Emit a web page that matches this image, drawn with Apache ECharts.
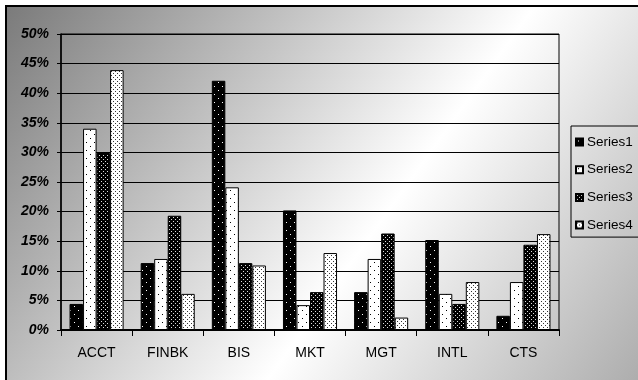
<!DOCTYPE html>
<html>
<head>
<meta charset="utf-8">
<script src="https://cdn.jsdelivr.net/npm/echarts@6/dist/echarts.min.js"></script>
<style>html,body{margin:0;padding:0;background:#fff;}#c{width:638px;height:380px;}</style>
</head>
<body>
<div id="c"></div>
<script>
const categories = ['ACCT', 'FINBK', 'BIS', 'MKT', 'MGT', 'INTL', 'CTS'];
const seriesNames = ['Series1', 'Series2', 'Series3', 'Series4'];
const series1 = [4.4, 11.3, 42.1, 20.2, 6.4, 15.2, 2.4];
const series2 = [34.0, 12.0, 24.1, 4.2, 12.0, 6.1, 8.1];
const series3 = [29.9, 19.3, 11.3, 6.4, 16.3, 4.4, 14.4];
const series4 = [43.9, 6.1, 10.9, 13.0, 2.1, 8.1, 16.2];
const yMin = 0, yMax = 50, yStep = 5;

function makePattern(bg, fg, size, dots) {
  const cv = document.createElement('canvas');
  cv.width = size; cv.height = size;
  const ctx = cv.getContext('2d');
  ctx.fillStyle = bg; ctx.fillRect(0, 0, size, size);
  ctx.fillStyle = fg;
  dots.forEach(d => ctx.fillRect(d[0], d[1], 1, 1));
  return { image: cv, repeat: 'repeat' };
}
const patterns = [
  makePattern('#000', '#fff', 8, [[2, 2], [6, 6]]),
  makePattern('#fff', '#000', 8, [[2, 2], [6, 6]]),
  makePattern('#000', '#ddd', 4, [[1, 1], [3, 3]]),
  makePattern('#fff', '#333', 4, [[1, 1], [3, 3]])
];
const dataSets = [series1, series2, series3, series4];

const chart = echarts.init(document.getElementById('c'), null, { renderer: 'canvas' });
const font = '"Liberation Sans", Arial, sans-serif';
chart.setOption({
  animation: false,
  backgroundColor: '#fff',
  graphic: [{
    type: 'rect', z: -10, silent: true,
    shape: { x: 6, y: 6, width: 700, height: 500 },
    style: {
      fill: new echarts.graphic.LinearGradient(0, 0, 1, 1, [
        { offset: 0, color: '#7a7a7a' },
        { offset: 0.5, color: '#ffffff' },
        { offset: 1, color: '#8a8a8a' }
      ]),
      stroke: '#000', lineWidth: 2
    }
  }],
  grid: {
    left: 61, right: 79, top: 34, bottom: 50,
    show: true, borderColor: '#000', borderWidth: 1, backgroundColor: 'transparent'
  },
  legend: {
    orient: 'vertical', left: 571, top: 126,
    data: seriesNames,
    icon: 'rect', itemWidth: 7, itemHeight: 7, itemGap: 13.7,
    padding: [9, 30, 5, 4],
    borderColor: '#000', borderWidth: 1, backgroundColor: 'transparent',
    textStyle: { fontFamily: font, fontSize: 13.5, color: '#000', lineHeight: 14, padding: [0, 0, 0, -1] }
  },
  xAxis: {
    type: 'category', data: categories,
    axisLine: { lineStyle: { color: '#000', width: 2 } },
    axisTick: { show: true, length: 6, lineStyle: { color: '#000' } },
    axisLabel: { fontFamily: font, fontSize: 14, color: '#000', margin: 16 }
  },
  yAxis: {
    type: 'value', min: yMin, max: yMax, interval: yStep,
    axisLine: { show: true, lineStyle: { color: '#000', width: 1.5 } },
    axisTick: { show: true, length: 4, lineStyle: { color: '#000' } },
    splitLine: { lineStyle: { color: '#000', width: 1.2 } },
    axisLabel: {
      formatter: '{value}%', fontFamily: font, fontSize: 14, fontWeight: 'bold',
      fontStyle: 'italic', color: '#000', margin: 12
    }
  },
  series: seriesNames.map((n, i) => ({
    name: n, type: 'bar', data: dataSets[i],
    barGap: '0%', barCategoryGap: '24%',
    itemStyle: { color: patterns[i], borderColor: '#000', borderWidth: 1 }
  }))
});
</script>
</body>
</html>
